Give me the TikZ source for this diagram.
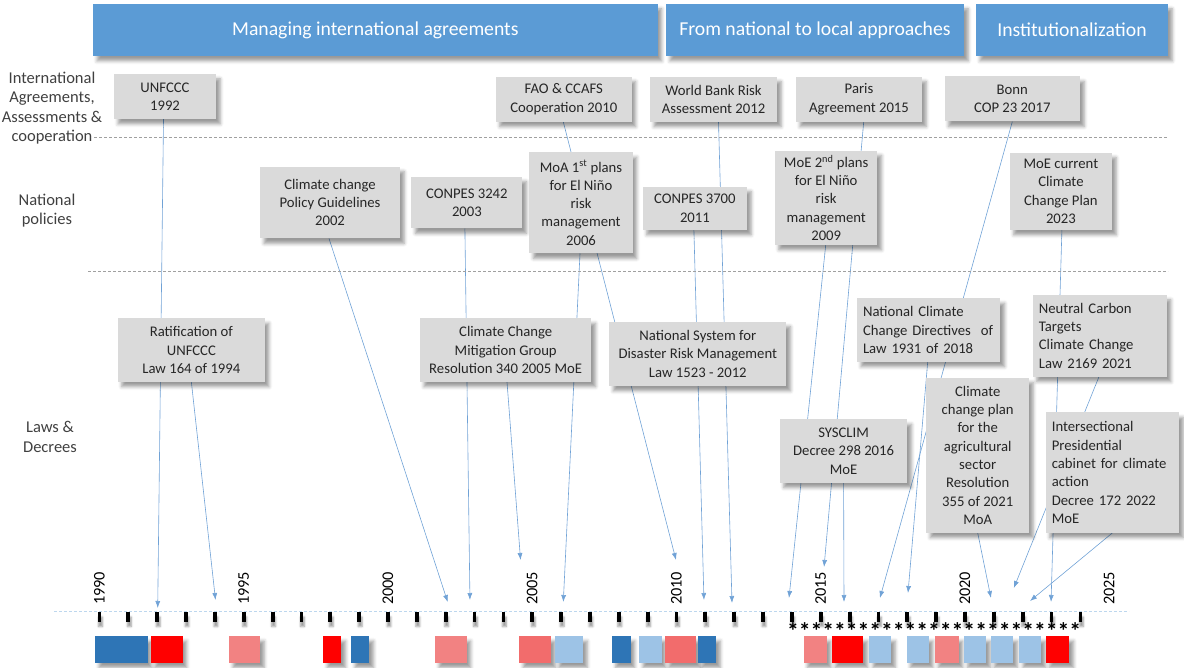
\documentclass[tikz,border=0pt]{standalone}
\usepackage{fontspec}
\setmainfont{Carlito}
\usepackage{tikz}
\usetikzlibrary{calc, arrows.meta, shadows.blur}
\definecolor{boxgray}{RGB}{218,218,218}
\definecolor{phaseblue}{RGB}{91,155,213}
\definecolor{linkblue}{RGB}{112,162,214}
\definecolor{axisblue}{RGB}{189,215,238}
\definecolor{labgray}{RGB}{64,64,64}
\definecolor{sepgray}{RGB}{160,160,160}
\definecolor{dkblue}{RGB}{46,117,182}
\definecolor{ltblue}{RGB}{157,195,230}
\definecolor{pinkL}{RGB}{242,130,130}
\definecolor{pinkD}{RGB}{242,108,108}
\definecolor{barred}{RGB}{255,0,0}
\newcommand{\bxfont}{\fontsize{14.7}{18.3}\selectfont}
\newcommand{\phfont}{\fontsize{19.7}{24}\selectfont}
\newcommand{\rowfont}{\fontsize{16.5}{19.4}\selectfont}
\newcommand{\yrfont}{\fontsize{16.3}{18}\selectfont}
\pgfdeclarelayer{back}
\pgfsetlayers{back,main}
\tikzset{>={Latex[length=7pt,width=5pt]}}
\tikzset{
 shd/.style={blur shadow={shadow xshift=4pt,shadow yshift=-5pt,shadow blur radius=3.5pt,shadow opacity=40}},
 evbox/.style={fill=boxgray, shd, align=center, font=\bxfont, text=black!85, inner sep=2pt},
 leftbox/.style={evbox, align=left, inner xsep=6pt, text width=#1},
 phase/.style={fill=phaseblue, shd, text=white, font=\phfont, minimum height=52pt},
 rowlab/.style={align=center, font=\rowfont, text=labgray},
 link/.style={linkblue, line width=0.6pt, ->},
 sepline/.style={sepgray, line width=0.7pt, dash pattern=on 3pt off 2pt},
 yearlab/.style={rotate=90, anchor=west, inner sep=0pt, font=\yrfont, text=black},
}

\begin{document}
\begin{tikzpicture}[x=1pt,y=-1pt]
\useasboundingbox (0,0) rectangle (1184,668);

% phases
\node[phase, minimum width=564.7pt] (ph1) at (375.35,30) {Managing international agreements};
\node[phase, minimum width=298pt] (ph2) at (815,30) {From national to local approaches};
\node[phase, minimum width=192pt] (ph3) at (1072,30) {Institutionalization};

% row labels and separators
\node[rowlab] (rintl) at (52,108) {International\\Agreements,\\Assessments \&\\cooperation};
\node[rowlab] (rnat) at (47,210.5) {National\\policies};
\node[rowlab] (rlaw) at (50,437) {Laws \&\\Decrees};
\draw[sepline] (94,137) -- (1168,137);
\draw[sepline] (88,271) -- (1168,271);

% international
\node[evbox, minimum width=102pt, minimum height=45pt] (unfccc) at (165,96.5) {UNFCCC\\1992};
\node[evbox, minimum width=135.7pt, minimum height=45pt] (fao) at (563.8,99.2) {FAO \& CCAFS\\Cooperation 2010};
\node[evbox, minimum width=127pt, minimum height=45pt] (wbank) at (713.5,99.2) {World Bank Risk\\Assessment 2012};
\node[evbox, minimum width=126pt, minimum height=45pt] (paris) at (859,99.2) {Paris\\Agreement 2015};
\node[evbox, minimum width=135.5pt, minimum height=45pt] (bonn) at (1012.3,99) {Bonn\\COP 23 2017};

% national policies
\node[evbox, minimum width=140pt, minimum height=71.6pt] (cpolicy) at (330,202.5) {Climate change\\Policy Guidelines\\2002};
\node[evbox, minimum width=111pt, minimum height=51.6pt] (conpesA) at (466.9,202.5) {CONPES 3242\\2003};
\node[evbox, minimum width=103.4pt, minimum height=101pt] (moa) at (581,202.8) {MoA 1\textsuperscript{st} plans\\for El Niño\\risk\\management\\2006};
\node[evbox, minimum width=104.2pt, minimum height=43.3pt] (conpesB) at (694.9,208.3) {CONPES 3700\\2011};
\node[evbox, minimum width=102.5pt, minimum height=94.3pt] (moeB) at (826.2,197.8) {MoE 2\textsuperscript{nd} plans\\for El Niño\\risk\\management\\2009};
\node[evbox, minimum width=102.3pt, minimum height=77.3pt] (moeC) at (1060.9,191.3) {MoE current\\Climate\\Change Plan\\2023};

% laws and decrees
\node[evbox, minimum width=147pt, minimum height=63.4pt] (ratif) at (191.35,350) {Ratification of\\UNFCCC\\Law 164 of 1994};
\node[evbox, minimum width=171.3pt, minimum height=63.4pt] (mitig) at (505.7,350) {Climate Change\\Mitigation Group\\Resolution 340 2005 MoE};
\node[evbox, minimum width=177pt, minimum height=64.3pt] (natsys) at (697.8,353.8) {National System for\\Disaster Risk Management\\Law 1523 - 2012};
\node[leftbox=131.4pt, minimum height=63.4pt] (nccd) at (928.7,330) {National Climate\\Change Directives~ of\\Law 1931 of 2018};
\node[leftbox=122pt, minimum height=81.7pt] (neutral) at (1099.9,335.8) {Neutral Carbon\\Targets\\Climate Change\\Law 2169 2021};
\node[evbox, minimum width=127.4pt, minimum height=63.4pt] (sysclim) at (843.6,451) {SYSCLIM\\Decree 298 2016\\MoE};
\node[evbox, minimum width=102.7pt, minimum height=155pt] (agri) at (977.7,455.2) {Climate\\change plan\\for the\\agricultural\\sector\\Resolution\\355 of 2021\\MoA};
\node[leftbox=121.2pt, minimum height=120.4pt] (cabinet) at (1112.4,472.5) {Intersectional\\Presidential\\cabinet for climate\\action\\Decree 172 2022\\MoE};

% time axis
\draw[axisblue, line width=0.8pt, dash pattern=on 3pt off 2pt] (54,611) -- (1129,611);
\foreach \yr [count=\i from 0] in {1990,...,2024}{
  \coordinate (t\yr) at ({99.5+\i*28.85},611);
  \fill[black, blur shadow={shadow xshift=1pt,shadow yshift=-5pt,shadow blur radius=2pt,shadow opacity=40}] ($(t\yr)+(-1.9,1)$) rectangle ($(t\yr)+(1.9,10.5)$);
}
\foreach \yr in {1990,1995,...,2025}
  \node[yearlab] (lab\yr) at ({99.5+(\yr-1990)*28.85},605) {\yr};
\node[font=\bfseries\fontsize{23.6}{24}\selectfont, anchor=base west, inner sep=0pt] (stars) at (787,639) {*************************};

% bars
\foreach \xa/\xb/\cl in {95/147.7/dkblue, 151/182.7/barred, 229/260/pinkL, 323.4/341.4/barred,
  351/369.3/dkblue, 435/466.5/pinkL, 519.3/551/pinkD, 555/583/ltblue, 611.9/630.5/dkblue,
  639/661.5/ltblue, 665/696/pinkD, 698/716.2/dkblue, 803.7/826.8/pinkL, 831.7/863.3/barred,
  869/891/ltblue, 906.5/928.9/ltblue, 934.5/958.7/pinkL, 963.9/986.2/ltblue, 990.7/1013/ltblue,
  1019/1041.3/ltblue, 1045.8/1069.3/barred}
  \fill[\cl, shd] (\xa,636) rectangle (\xb,662.7);

% links to the years
\begin{pgfonlayer}{back}
\draw[link] ([xshift=-1.5pt]unfccc.south) -- ($(t1992)+(0.5,-3)$);
\draw[link] (ratif.south) -- ($(t1994)+(0.6,-11)$);
\draw[link] ([xshift=-1pt]cpolicy.south) -- ($(t2002)+(2,-9)$);
\draw[link] ([xshift=-2pt]conpesA.south) -- ($(t2003)+(-4.6,-11)$);
\draw[link] ([xshift=1.3pt]mitig.south) -- ($(t2005)+(-11.7,-51)$);
\draw[link] ([xshift=-1pt]moa.south) -- ($(t2006)+(2.2,-9)$);
\draw[link] ([xshift=-0.5pt]fao.south) -- ($(t2010)+(-0.5,-51)$);
\draw[link] ([xshift=-1pt]conpesB.south) -- ($(t2011)+(-1.4,-11)$);
\draw[link] ([xshift=5pt]wbank.south) -- ($(t2012)+(-2.2,-8)$);
\draw[link] ([xshift=4.7pt]paris.south) -- ($(t2015)+(3.3,-44)$);
\draw[link] ([xshift=-0.5pt]moeB.south) -- ($(t2014)+(-2.9,-13)$);
\draw[link] (sysclim.south) -- ($(t2016)+(-5.6,-9)$);
\draw[link] (bonn.south) -- ($(t2017)+(1.5,-13)$);
\draw[link] ([xshift=-1pt]nccd.south) -- ($(t2018)+(0.7,-18)$);
\draw[link] (agri.south) -- ($(t2021)+(-2.9,-13)$);
\draw[link] ([xshift=-1pt]neutral.south) -- ($(t2021)+(20,-23)$);
\draw[link] (cabinet.south) -- ($(t2022)+(7.3,-10)$);
\draw[link] ([xshift=1pt]moeC.south) -- ($(t2023)+(-0.5,-9)$);
\end{pgfonlayer}
\end{tikzpicture}
\end{document}
